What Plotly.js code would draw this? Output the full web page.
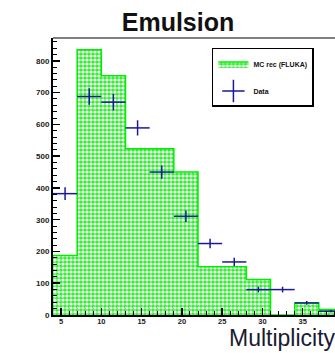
<!DOCTYPE html>
<html><head><meta charset="utf-8">
<script src="https://cdn.plot.ly/plotly-3.0.1.min.js"></script>
<style>html,body{margin:0;padding:0;overflow:hidden;background:#fff}</style></head>
<body><div id="chart" style="width:345px;height:353px"></div>
<script>
const binLow = [4, 7, 10, 13, 16, 19, 22, 25, 28, 31, 34, 37];
const binWidth = 3;
const mcValues = [187, 835, 753, 523, 523, 450, 152, 152, 112, 0, 38, 17];
const dataX = [5.5, 8.5, 11.5, 14.5, 17.5, 20.5, 23.5, 26.5, 29.5, 32.5, 35.5, 38.5];
const dataY = [382, 688, 670, 589, 450, 311, 225, 167, 80, 80, 38, 12];
const dataErr = [20, 26, 26, 24, 21, 18, 15, 13, 9, 9, 6, 4];
const xTickVals = [5, 10, 15, 20, 25, 30, 35];
const yTickVals = [0, 100, 200, 300, 400, 500, 600, 700, 800];

const stepX = binLow.concat([binLow[binLow.length - 1] + binWidth]);
const stepY = mcValues.concat([mcValues[mcValues.length - 1]]);
const halfW = dataX.map(() => binWidth / 2);

const green = '#00ee00';
const navy = '#1a1a99';
const font = 'Liberation Sans, Arial, sans-serif';

const traces = [
  {
    x: stepX, y: stepY, type: 'scatter', mode: 'lines', name: 'MC rec (FLUKA)',
    line: {shape: 'hv', color: green, width: 1.5},
    fill: 'tozeroy', fillcolor: '#33ee33',
    fillpattern: {shape: '.', fgcolor: '#ffffff', bgcolor: '#33ee33', size: 4, solidity: 0.5},
    legendgroup: 'a'
  },
  {
    x: dataX, y: dataY, type: 'scatter', mode: 'markers', name: 'Data', showlegend: false,
    marker: {size: 1, color: navy},
    error_y: {type: 'data', array: dataErr, visible: true, color: navy, thickness: 1.5, width: 0},
    error_x: {type: 'data', array: halfW, visible: true, color: navy, thickness: 1.5, width: 0}
  },
  {
    x: [null], y: [null], type: 'scatter', mode: 'markers', name: 'Data',
    marker: {symbol: 'cross-thin', size: 16, color: navy, line: {color: navy, width: 1.5}},
    legendgroup: 'b'
  }
];

const layout = {
  width: 345, height: 353,
  margin: {l: 53, r: 2, t: 38, b: 37.5},
  paper_bgcolor: '#fff', plot_bgcolor: '#fff',
  showlegend: true,
  title: {text: 'Emulsion', font: {family: font, size: 25, color: '#111', weight: 'bold'},
          xref: 'container', x: 0.516, xanchor: 'center', yref: 'container', y: 0.937, yanchor: 'middle'},
  xaxis: {
    range: [4, 40], tickvals: xTickVals, ticktext: xTickVals.map(String),
    ticks: 'inside', ticklen: 7, tickwidth: 1.5, tickcolor: '#000',
    minor: {dtick: 1, tick0: 0, ticks: 'inside', ticklen: 4, tickcolor: '#000', tickwidth: 1},
    showline: true, linecolor: '#000', linewidth: 2, mirror: false,
    showgrid: false, zeroline: false, ticklabelstandoff: -2,
    tickfont: {family: font, size: 7.5, color: '#222', weight: 'bold'}
  },
  yaxis: {
    range: [0, 872], tickvals: yTickVals, ticktext: yTickVals.map(String),
    ticks: 'inside', ticklen: 7, tickwidth: 1.5, tickcolor: '#000',
    minor: {dtick: 20, tick0: 0, ticks: 'inside', ticklen: 4, tickcolor: '#000', tickwidth: 1},
    showline: true, linecolor: '#000', linewidth: 2, mirror: false,
    showgrid: false, zeroline: false,
    tickfont: {family: font, size: 8, color: '#222', weight: 'bold'}
  },
  shapes: [
    {type: 'line', xref: 'paper', yref: 'paper', x0: 0, x1: 1, y0: 1, y1: 1, line: {color: '#000', width: 1}}
  ],
  legend: {
    x: 0.548, y: 0.964, xanchor: 'left', yanchor: 'top',
    bgcolor: '#fff', bordercolor: '#000', borderwidth: 1.5,
    font: {family: font, size: 7, color: '#111', weight: 'bold'},
    tracegroupgap: 8, itemwidth: 30
  },
  annotations: [
    {text: 'Multiplicity', xref: 'paper', yref: 'paper', x: 0.978, y: -0.1351,
     xanchor: 'right', yanchor: 'bottom', showarrow: false,
     height: 26, valign: 'middle', borderpad: 0,
     font: {family: font, size: 23, color: '#1a1a30'}}
  ]
};

Plotly.newPlot('chart', traces, layout, {displayModeBar: false, staticPlot: true});
</script></body></html>
